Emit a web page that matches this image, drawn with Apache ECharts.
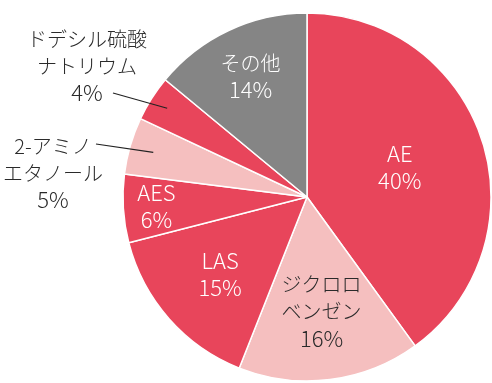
<!DOCTYPE html>
<html><head><meta charset="utf-8">
<script src="https://cdn.jsdelivr.net/npm/echarts@6/dist/echarts.min.js"></script>
<style>html,body{margin:0;padding:0;background:#fff}#c{width:492px;height:383px}</style>
</head><body><div id="c"></div>
<script>
// ---- data ----
const categories = ['AE', 'ジクロロ\nベンゼン', 'LAS', 'AES', '2-アミノ\nエタノール', 'ドデシル硫酸\nナトリウム', 'その他'];
const shares = [40, 16, 15, 6, 5, 4, 14];

// ---- styling / layout ----
const RED = '#E8455B', PINK = '#F5BFBF', GRAY = '#858585';
const sliceColors = [RED, PINK, RED, RED, PINK, RED, GRAY];
const textColors = ['#fff', '#2a2a2a', '#fff', '#fff', '#2a2a2a', '#2a2a2a', '#fff'];
const CX = 307, CY = 197, R = 184;
// inside labels: radial distance as fraction of radius
const insideRatio = [0.53, 0.63, 0.63, 0.82, null, null, 0.72];
// outside labels: text block centre and leader-line end, plus leader start fraction
const outside = {
  4: { lx: 53, ly: 173, ex: 96, ey: 144, start: 0.87 },
  5: { lx: 87, ly: 66, ex: 113, ey: 93, start: 0.9 }
};

const total = shares.reduce((a, b) => a + b, 0);
function midDir(i) {
  let before = 0;
  for (let k = 0; k < i; k++) before += shares[k];
  const a = (before + shares[i] / 2) / total * 2 * Math.PI; // clockwise from top
  return [Math.sin(a), -Math.cos(a)];
}
const isLatin = s => /^[A-Za-z]+$/.test(s);
function fmt(p) {
  const nameLines = p.name.split('\n').map(s => (isLatin(s) ? '{v|' : '{n|') + s + '}');
  return nameLines.join('\n') + '\n{v|' + p.value + '%}';
}

const FONT = "'Noto Sans CJK JP', 'Noto Sans', sans-serif";
const rich = {
  n: { fontFamily: FONT, fontSize: 20, fontWeight: 300, lineHeight: 27 },
  v: { fontFamily: FONT, fontSize: 22, fontWeight: 300, lineHeight: 27 }
};

function layoutFn(p) {
  const i = p.dataIndex;
  const d = midDir(i);
  if (outside[i]) {
    const o = outside[i];
    return {
      x: o.lx, y: o.ly, align: 'center', verticalAlign: 'middle',
      labelLinePoints: [[CX + d[0] * R * o.start, CY + d[1] * R * o.start], [o.ex, o.ey]]
    };
  }
  const r = p.labelRect;
  const tx = CX + d[0] * R * insideRatio[i];
  const ty = CY + d[1] * R * insideRatio[i];
  return { dx: tx - (r.x + r.width / 2), dy: ty - (r.y + r.height / 2) };
}

const chart = echarts.init(document.getElementById('c'), null, { renderer: 'canvas' });
chart.setOption({
  animation: false,
  backgroundColor: '#fff',
  series: [{
    // slices + inside labels
    type: 'pie',
    z: 2,
    center: [CX, CY],
    radius: R,
    startAngle: 90,
    clockwise: true,
    avoidLabelOverlap: false,
    itemStyle: { borderColor: '#fff', borderWidth: 1.5 },
    data: categories.map((name, i) => ({
      name, value: shares[i],
      itemStyle: { color: sliceColors[i] },
      label: { show: !outside[i], position: 'inside', color: textColors[i], formatter: fmt, rich },
      labelLine: { show: false }
    })),
    labelLayout: layoutFn
  }, {
    // same slices, transparent, carrying the outside labels and leader lines on top
    type: 'pie',
    z: 5,
    silent: true,
    center: [CX, CY],
    radius: R,
    startAngle: 90,
    clockwise: true,
    avoidLabelOverlap: false,
    itemStyle: { color: 'rgba(0,0,0,0)', borderWidth: 0 },
    labelLine: { show: true, length: 10, length2: 10, lineStyle: { color: '#222', width: 1.2 } },
    data: categories.map((name, i) => ({
      name, value: shares[i],
      label: { show: !!outside[i], position: 'outside', color: textColors[i], formatter: fmt, rich },
      labelLine: { show: !!outside[i] }
    })),
    labelLayout: layoutFn
  }]
});
</script></body></html>
